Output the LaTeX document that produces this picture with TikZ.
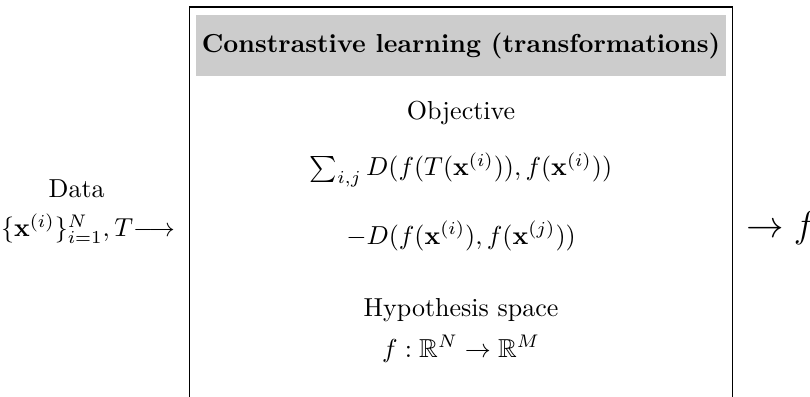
\documentclass[tikz,border=0pt]{standalone}
\usepackage{amsfonts,amssymb,amsmath}
\usepackage{xcolor}
\usepackage{tikz}
\begin{document}
\begin{tikzpicture}[x=1pt,y=1pt,txt/.style={anchor=base,inner sep=0pt},
headbar/.style={fill=gray!40,minimum width=203.8pt,minimum height=23.4pt,inner sep=0pt,font=\bfseries}]
\clip(0,0)rectangle(311.5,-152.3);
\draw[line width=0.6pt](72.8,-2.8)rectangle(281.7,-170);
\node[headbar](head)at(177.3,-17.5){Constrastive learning (transformations)};
\node[txt](obj)at(177.3,-46){Objective};
\node[txt](lossa)at(177.3,-67.5){$\sum_{i,j} D(f(T(\mathbf{x}^{(i)})), f(\mathbf{x}^{(i)}))$};
\node[txt](lossb)at(177.3,-94){$-D(f(\mathbf{x}^{(i)}), f(\mathbf{x}^{(j)}))$};
\node[txt](hyp)at(177.3,-121.8){Hypothesis space};
\node[txt](map)at(177.3,-137.4){$f:\mathbb{R}^N \to \mathbb{R}^M$};
\node[txt](data)at(29.5,-75.9){Data};
\node[txt,anchor=base east](input)at(67.5,-91){$\{\mathbf{x}^{(i)}\}_{i=1}^N, T\mathord{\longrightarrow}$};
\node[txt,anchor=base west,font=\Large](output)at(286.7,-91.5){$\rightarrow f$};
\end{tikzpicture}
\end{document}
